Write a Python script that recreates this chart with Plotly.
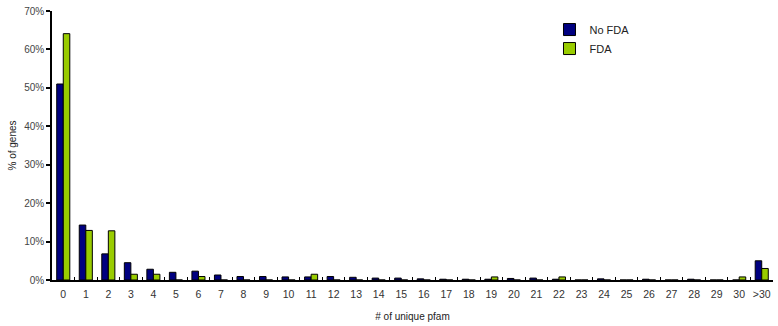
import plotly.graph_objects as go

categories = [str(i) for i in range(31)] + [">30"]
no_fda = [51.0, 14.3, 6.8, 4.5, 2.8, 2.0, 2.3, 1.3, 0.9, 0.9, 0.8, 0.8, 0.9, 0.7, 0.5,
          0.5, 0.3, 0.2, 0.2, 0.2, 0.4, 0.5, 0.2, 0.0, 0.3, 0.0, 0.2, 0.0, 0.2, 0.0, 0.0, 5.0]
fda = [64.1, 12.9, 12.8, 1.5, 1.5, 0.0, 0.9, 0.0, 0.0, 0.0, 0.0, 1.5, 0.0, 0.0, 0.0,
       0.0, 0.0, 0.0, 0.0, 0.8, 0.0, 0.0, 0.8, 0.0, 0.0, 0.0, 0.0, 0.0, 0.0, 0.0, 0.8, 3.0]
y_ticks = [0, 10, 20, 30, 40, 50, 60, 70]

FONT = "Liberation Sans, Arial, sans-serif"

fig = go.Figure()
fig.add_trace(go.Bar(x=categories, y=no_fda, name="No FDA",
                     marker=dict(color="#000080", line=dict(color="#000000", width=1))))
fig.add_trace(go.Bar(x=categories, y=fda, name="FDA",
                     marker=dict(color="#99CC00", line=dict(color="#000000", width=1))))

fig.update_layout(
    width=778, height=326,
    margin=dict(l=52, r=5, t=11, b=46),
    paper_bgcolor="white", plot_bgcolor="white",
    barmode="group", bargap=0.42, bargroupgap=0.0,
    font=dict(family=FONT, size=10, color="#222222"),
    showlegend=True,
    legend=dict(x=0.69, y=0.985, xanchor="left", yanchor="top",
                bgcolor="rgba(0,0,0,0)", font=dict(size=11, color="#222222"),
                tracegroupgap=0, itemwidth=30),
    xaxis=dict(type="category", showgrid=False, showline=True, linecolor="black",
               linewidth=1.5, ticks="inside", ticklen=3, tickcolor="black",
               tickson="boundaries", tickangle=0, tickfont=dict(size=10.5, color="#333333"),
               ticklabelstandoff=4,
               title=dict(text="# of unique pfam", font=dict(size=10), standoff=14),
               fixedrange=True),
    yaxis=dict(range=[0, 70], tickvals=y_ticks, ticktext=[f"{v}%" for v in y_ticks],
               showgrid=False, zeroline=False, showline=True, linecolor="black",
               linewidth=1.5, ticks="outside", ticklen=4, tickcolor="black", tickwidth=1.5,
               tickfont=dict(size=10, color="#444444"),
               title=dict(text="% of genes", font=dict(size=10), standoff=6)),
    yaxis2=dict(range=[0, 70], tickvals=y_ticks, overlaying="y", side="left",
                showticklabels=False, showgrid=False, zeroline=False, showline=False,
                ticks="inside", ticklen=4, tickcolor="black", tickwidth=1.5),
)

fig.write_html("out.html", config={"displayModeBar": False},
               post_script="document.body.style.margin='0';document.body.style.overflow='hidden';")
